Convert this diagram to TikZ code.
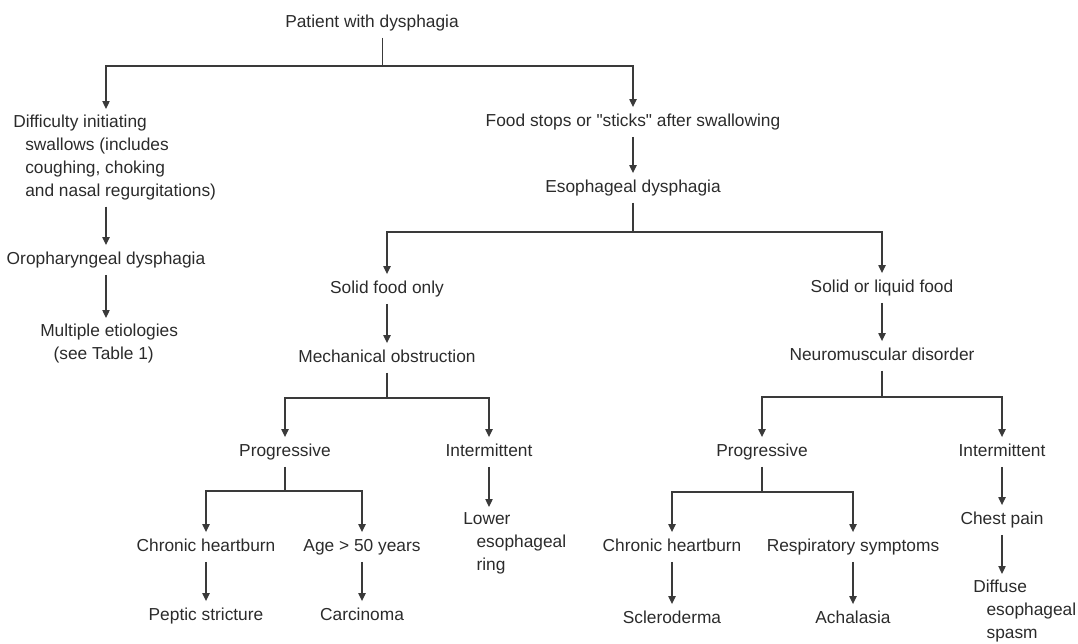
\documentclass[tikz,border=0pt]{standalone}
\usepackage{fontspec}
\setmainfont{Liberation Sans}[Ligatures=TeXOff]
\usetikzlibrary{arrows.meta}
\definecolor{txtcol}{HTML}{2B2B2B}
\definecolor{linecol}{HTML}{3A3A3A}
\tikzset{
lbl/.style={
  font=\fontsize{13}{17.25}\selectfont, text=txtcol,
  inner xsep=2pt, inner ysep=5pt, text height=9.5pt, text depth=2.5pt},
mlbl/.style={
  font=\fontsize{13}{17.25}\selectfont, text=txtcol,
  align=left, anchor=north west, inner xsep=0pt, inner ysep=4pt},
arr/.style={draw=linecol, line width=0.9pt, -{Triangle[width=5.5pt,length=6pt]}}}

\begin{document}
\begin{tikzpicture}[x=0.75pt, y=-0.75pt]
\useasboundingbox (0,0) rectangle (1078,643);

% top
\node[lbl] (pat) at (372,23) {Patient with dysphagia};
\node[mlbl] (diff) at (13,109) {Difficulty initiating\\
  \hspace*{9pt}swallows (includes\\
  \hspace*{9pt}coughing, choking\\
  \hspace*{9pt}and nasal regurgitations)};
\node[lbl] (food) at (633,122) {Food stops or "sticks" after swallowing};
\node[lbl] (esoph) at (633,188) {Esophageal dysphagia};

% oropharyngeal side
\node[lbl] (oro) at (106,260) {Oropharyngeal dysphagia};
\node[mlbl] (multi) at (40,318) {Multiple etiologies\\ \hspace*{10pt}(see Table 1)};

% solid food only
\node[lbl] (solid) at (387,289) {Solid food only};
\node[lbl] (mech) at (387,358) {Mechanical obstruction};
\node[lbl] (prog1) at (285,452) {Progressive};
\node[lbl] (inter1) at (489,452) {Intermittent};
\node[lbl] (heart1) at (206,547) {Chronic heartburn};
\node[lbl] (age) at (362,547) {Age > 50 years};
\node[lbl] (pep) at (206,616) {Peptic stricture};
\node[lbl] (carc) at (362,616) {Carcinoma};
\node[mlbl] (lower) at (463,507) {Lower\\ \hspace*{10pt}esophageal\\ \hspace*{10pt}ring};

% solid or liquid food
\node[lbl] (liq) at (882,288) {Solid or liquid food};
\node[lbl] (neuro) at (882,356) {Neuromuscular disorder};
\node[lbl] (prog2) at (762,452) {Progressive};
\node[lbl] (inter2) at (1002,452) {Intermittent};
\node[lbl] (heart2) at (672,547) {Chronic heartburn};
\node[lbl] (resp) at (853,547) {Respiratory symptoms};
\node[lbl] (scl) at (672,619) {Scleroderma};
\node[lbl] (acha) at (853,619) {Achalasia};
\node[lbl] (chest) at (1002,520) {Chest pain};
\node[mlbl] (diffuse) at (973,574) {Diffuse\\ \hspace*{10pt}esophageal\\ \hspace*{10pt}spasm};

% connectors
\draw[arr] ([xshift=8pt]pat.south) |- (oro |- 0,66) -- (oro |- diff.north);
\draw[arr] ([xshift=8pt]pat.south) |- (food |- 0,66) -- (food.north);
\draw[arr, shorten <=1pt] (oro |- diff.south) -- (oro.north);
\draw[arr] (oro.south) -- (oro |- multi.north);
\draw[arr] (food.south) -- (esoph.north);

\draw[arr] (esoph.south) |- (solid |- 0,232) -- (solid.north);
\draw[arr] (esoph.south) |- (liq |- 0,232) -- (liq.north);

\draw[arr] (solid.south) -- (mech.north);
\draw[arr] (mech.south) |- (prog1 |- 0,398) -- (prog1.north);
\draw[arr] (mech.south) |- (inter1 |- 0,398) -- (inter1.north);
\draw[arr] (prog1.south) |- (heart1 |- 0,491) -- (heart1.north);
\draw[arr] (prog1.south) |- (age |- 0,491) -- (age.north);
\draw[arr] (heart1.south) -- (pep.north);
\draw[arr] (age.south) -- (carc.north);
\draw[arr] (inter1.south) -- (inter1 |- lower.north);

\draw[arr] (liq.south) -- (neuro.north);
\draw[arr] (neuro.south) |- (prog2 |- 0,397) -- (prog2.north);
\draw[arr] (neuro.south) |- (inter2 |- 0,397) -- (inter2.north);
\draw[arr] (prog2.south) |- (heart2 |- 0,492) -- (heart2.north);
\draw[arr] (prog2.south) |- (resp |- 0,492) -- (resp.north);
\draw[arr] (heart2.south) -- (scl.north);
\draw[arr] (resp.south) -- (acha.north);
\draw[arr] (inter2.south) -- (chest.north);
\draw[arr] (chest.south) -- (chest |- diffuse.north);

\end{tikzpicture}
\end{document}
